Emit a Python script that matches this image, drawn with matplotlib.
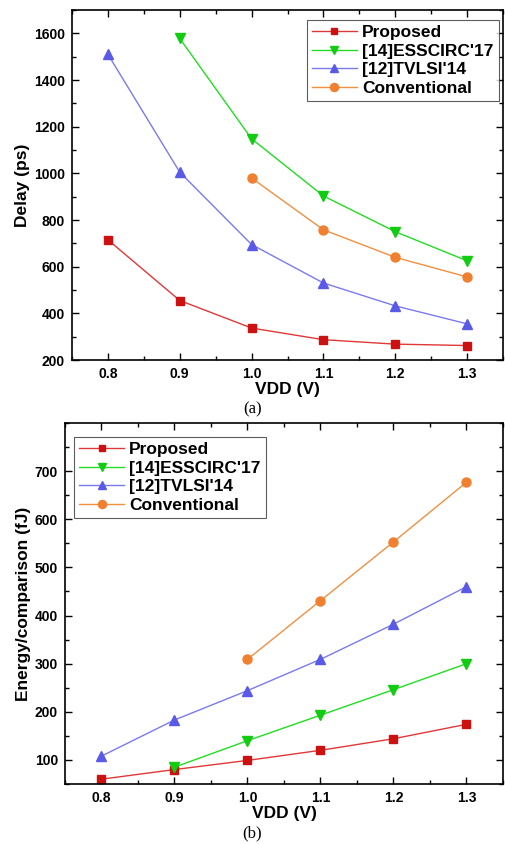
import matplotlib
matplotlib.use("Agg")
import matplotlib.pyplot as plt
from matplotlib.ticker import MultipleLocator

plt.rcParams['font.family'] = ['Liberation Sans', 'DejaVu Sans']

vdd = [0.8, 0.9, 1.0, 1.1, 1.2, 1.3]
vdd_esscirc = [0.9, 1.0, 1.1, 1.2, 1.3]
vdd_conv = [1.0, 1.1, 1.2, 1.3]

delay_proposed = [715, 455, 337, 287, 268, 262]
delay_esscirc = [1578, 1148, 903, 750, 625]
delay_tvlsi = [1510, 1005, 695, 530, 432, 355]
delay_conv = [980, 758, 640, 556]

energy_proposed = [60, 80, 99, 120, 144, 174]
energy_esscirc = [85, 140, 193, 246, 300]
energy_tvlsi = [108, 183, 244, 309, 382, 460]
energy_conv = [309, 431, 553, 677]

labels = ["Proposed", "[14]ESSCIRC'17", "[12]TVLSI'14", "Conventional"]
line_colors = ["#E03838", "#22DD22", "#7A7AEE", "#F09040"]
marker_colors = ["#CC1111", "#11CC11", "#5A5AE8", "#F08030"]
markers = ["s", "v", "^", "o"]
msizes = [5.5, 6.5, 6.5, 6.5]

fig = plt.figure(figsize=(5.05, 8.44), dpi=100)
ax1 = fig.add_axes([72/505, 1-360/844, 431/505, 350/844])
ax2 = fig.add_axes([65/505, 1-784/844, 438/505, 361/844])

def draw(ax, xs_list, ys_list):
    for xs, ys, lab, lc, mc, m, ms in zip(xs_list, ys_list, labels, line_colors, marker_colors, markers, msizes):
        ax.plot(xs, ys, color=lc, lw=1.0, marker=m, markersize=ms,
                markerfacecolor=mc, markeredgecolor=mc, label=lab)

draw(ax1, [vdd, vdd_esscirc, vdd, vdd_conv], [delay_proposed, delay_esscirc, delay_tvlsi, delay_conv])
draw(ax2, [vdd, vdd_esscirc, vdd, vdd_conv], [energy_proposed, energy_esscirc, energy_tvlsi, energy_conv])

ax1.set_xlim(0.75, 1.35)
ax1.set_ylim(200, 1700)
ax1.yaxis.set_major_locator(MultipleLocator(200))
ax1.yaxis.set_minor_locator(MultipleLocator(100))
ax1.set_ylabel("Delay (ps)", fontsize=12.5, fontweight='bold', labelpad=3)

ax2.set_xlim(0.75, 1.35)
ax2.set_ylim(50, 800)
ax2.set_yticks([100, 200, 300, 400, 500, 600, 700])
ax2.yaxis.set_minor_locator(MultipleLocator(50))
ax2.set_ylabel("Energy/comparison (fJ)", fontsize=12.5, fontweight='bold', labelpad=3)

for ax in (ax1, ax2):
    ax.set_xticks(vdd)
    ax.set_xticklabels(["0.8", "0.9", "1.0", "1.1", "1.2", "1.3"])
    ax.xaxis.set_minor_locator(MultipleLocator(0.05))
    ax.tick_params(which='both', direction='in', top=True, right=True, width=1.0)
    ax.tick_params(which='major', length=5, labelsize=10, pad=5)
    ax.tick_params(which='minor', length=3)
    for lab in ax.get_xticklabels() + ax.get_yticklabels():
        lab.set_fontweight('bold')
    ax.set_xlabel("VDD (V)", fontsize=12.5, fontweight='bold', labelpad=1)
    for s in ax.spines.values():
        s.set_linewidth(1.2)

common = dict(prop={'weight': 'bold', 'size': 12.5}, frameon=True, fancybox=False,
              edgecolor='#333333', borderpad=0.3, labelspacing=0.2, handlelength=2.6,
              handletextpad=0.3, borderaxespad=0.0, markerscale=0.9)
leg1 = ax1.legend(loc='upper right', bbox_to_anchor=(0.99, 0.972), **common)
leg1.get_frame().set_linewidth(0.8)
leg2 = ax2.legend(loc='upper left', bbox_to_anchor=(0.02, 0.962), **common)
leg2.get_frame().set_linewidth(0.8)

fig.text(0.5, 1-409/844, "(a)", ha='center', va='center', fontsize=12, family='Liberation Serif')
fig.text(0.5, 1-833/844, "(b)", ha='center', va='center', fontsize=12, family='Liberation Serif')

fig.savefig("out.png", dpi=100)
